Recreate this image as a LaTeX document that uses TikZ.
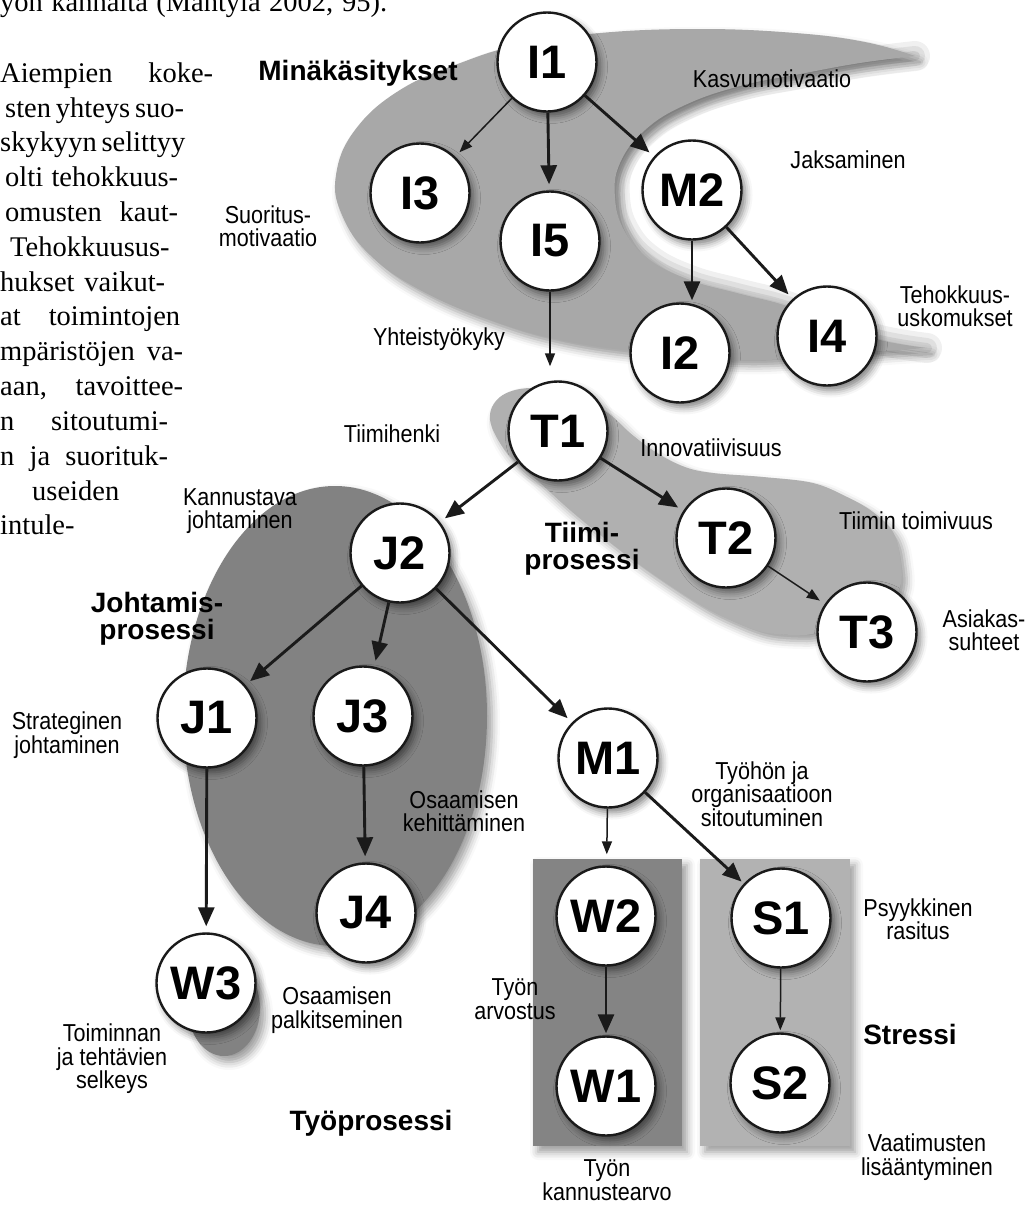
\documentclass[tikz,border=0pt]{standalone}
\usepackage{fontspec}
\setmainfont{Liberation Serif}
\newfontfamily\labfont[FakeStretch=0.88]{Liberation Sans}
\newfontfamily\hdfont{Liberation Sans}
\usetikzlibrary{arrows.meta,shadows.blur}
\definecolor{blobI}{HTML}{A8A8A8}
\definecolor{blobT}{HTML}{B0B0B0}
\definecolor{blobJ}{HTML}{828282}
\definecolor{rectW}{HTML}{848484}
\definecolor{rectS}{HTML}{B2B2B2}
\definecolor{ink}{HTML}{1A1A1A}
\tikzset{
  nd/.style={circle,draw=ink,line width=2.4pt,fill=white,minimum size=99pt,inner sep=0pt,
    font=\hdfont\bfseries\fontsize{47}{47}\selectfont,
    blur shadow={shadow xshift=4pt,shadow yshift=-5pt,shadow blur radius=7pt,shadow opacity=50}},
  lab/.style={font=\labfont\fontsize{24.5}{23.5}\selectfont,align=center,inner sep=0pt},
  hd/.style={font=\hdfont\bfseries\fontsize{28}{27}\selectfont,align=center,inner sep=0pt},
  body/.style={font=\fontsize{28.5}{34}\selectfont,inner sep=0pt,anchor=base west},
  arrA/.style={draw=ink,line width=2.9pt,-{Triangle[length=19pt,width=16pt]},shorten >=6pt},
  arrB/.style={draw=ink,line width=1.5pt,-{Triangle[length=13pt,width=10pt]},shorten >=6pt},
  blobshadow/.style={blur shadow={shadow xshift=5pt,shadow yshift=-6pt,shadow blur radius=8pt,shadow opacity=40}},
  halo/.style={draw=black,line cap=round},
}
\begin{document}
\begin{tikzpicture}[x=1pt,y=-1pt]
\useasboundingbox (0,0) rectangle (1028,1205);

% ---- body text of the page (cut off at the left) ----
\node[body] (b0) at (0,11) {\makebox[387pt][s]{yön kannalta (Mäntylä 2002, 95).}};
\node[body] (b1) at (0,82) {\makebox[213pt][s]{Aiempien koke-}};
\node[body] (b2) at (5,117) {\makebox[178pt][s]{sten yhteys suo-}};
\node[body] (b3) at (0,151) {\makebox[183pt][s]{skykyyn selittyy}};
\node[body] (b4) at (5,186) {\makebox[173pt][s]{olti tehokkuus-}};
\node[body] (b5) at (5,221) {\makebox[173pt][s]{omusten kaut-}};
\node[body] (b6) at (10,256) {Tehokkuusus-};
\node[body] (b7) at (0,291) {\makebox[165pt][s]{hukset vaikut-}};
\node[body] (b8) at (0,325) {\makebox[180pt][s]{at toimintojen}};
\node[body] (b9) at (0,360) {\makebox[183pt][s]{mpäristöjen va-}};
\node[body] (b10) at (0,395) {\makebox[183pt][s]{aan, tavoittee-}};
\node[body] (b11) at (0,430) {\makebox[168pt][s]{n sitoutumi-}};
\node[body] (b12) at (0,465) {\makebox[168pt][s]{n ja suorituk-}};
\node[body] (b13) at (32,500) {useiden};
\node[body] (b14) at (0,534) {intule-};

% ---- grouping shapes ----
% soft halo inside the concave side of the crescent
\foreach \w/\o in {30/0.06,20/0.07,10/0.08}{
  \draw[halo,opacity=\o,line width=\w pt] plot[smooth,tension=0.7] coordinates {(927,348) (880,340) (830,324) (787,306) (737,293) (690,280) (650,260) (625,232) (615,198) (620,163) (645,130) (685,105) (740,86) (800,74) (860,63) (915,56)};
}
\fill[blobI,blobshadow]
  plot[smooth,tension=0.7] coordinates {(915,56) (865,42) (795,33) (700,29) (600,33) (520,45) (463,62) (400,90) (355,130) (336,175) (342,215) (370,255) (420,290) (490,320) (560,340) (640,352) (730,360) (800,358) (870,352) (927,348)}
  -- plot[smooth,tension=0.7] coordinates {(927,348) (880,340) (830,324) (787,306) (737,293) (690,280) (650,260) (625,232) (615,198) (620,163) (645,130) (685,105) (740,86) (800,74) (860,63) (915,56)} -- cycle;
\fill[blobT,blobshadow] plot[smooth cycle,tension=0.6] coordinates {(490,420) (500,397) (530,388) (575,395) (608,413) (630,433) (657,453) (685,467) (713,473) (763,477) (813,483) (847,497) (873,512) (893,532) (900,557) (900,587) (880,620) (817,633) (797,635) (763,632) (730,620) (697,603) (647,570) (607,540) (570,510) (537,480) (507,453)};
\fill[blobJ,blobshadow] (335,716) ellipse [x radius=152, y radius=230];
\fill[blobJ,blobshadow] (224,1008) ellipse [x radius=36, y radius=48];
\fill[rectW,blobshadow] (533,859) rectangle (682,1146);
\fill[rectS,blobshadow] (700,859) rectangle (850,1146);

% ---- nodes ----
\node[nd] (I1) at (547,62) {I1};
\node[nd] (I3) at (420,193) {I3};
\node[nd] (I5) at (550,241) {I5};
\node[nd] (M2) at (692,190) {M2};
\node[nd] (I2) at (680,353) {I2};
\node[nd] (I4) at (827,336) {I4};
\node[nd] (T1) at (558,431) {T1};
\node[nd] (T2) at (726,538) {T2};
\node[nd] (T3) at (867,632) {T3};
\node[nd] (J2) at (400,553) {J2};
\node[nd] (J1) at (207,718) {J1};
\node[nd] (J3) at (363,716) {J3};
\node[nd] (J4) at (366,913) {J4};
\node[nd] (W3) at (206,983) {W3};
\node[nd] (M1) at (608,758) {M1};
\node[nd] (W2) at (606,916) {W2};
\node[nd] (W1) at (606,1086) {W1};
\node[nd] (S1) at (781,918) {S1};
\node[nd] (S2) at (780,1083) {S2};

% ---- connectors ----
\draw[arrB] (I1) -- (I3);
\draw[arrA] (I1) -- (I5);
\draw[arrA] (I1) -- (M2);
\draw[arrA,shorten >=2pt] (M2) -- (M2 |- I2.north);
\draw[arrA] (M2) -- (I4);
\draw[arrB,shorten >=14pt] (I5) -- (I5 |- T1.north);
\draw[arrA] (T1) -- (J2);
\draw[arrA] (T1) -- (T2);
\draw[arrB] (T2) -- (T3);
\draw[arrA] (J2) -- (J1);
\draw[arrA] (J2) -- (J3);
\draw[arrA] (J2) -- (M1);
\draw[arrA] (J1) -- (W3);
\draw[arrA] (J3) -- (J4);
\draw[arrB,shorten >=11pt] (M1) -- (W2);
\draw[arrA,shorten >=3pt] (M1) -- (S1);
\draw[arrA,shorten >=2pt] (W2) -- (W1);
\draw[arrB,shorten >=2pt] (S1) -- (S2);

% ---- labels ----
\node[hd,anchor=base] (lMin) at (358,80) {Minäkäsitykset};
\node[lab,anchor=base] (lKas) at (772,87) {Kasvumotivaatio};
\node[lab,anchor=base] (lJak) at (848,168) {Jaksaminen};
\node[lab] (lSuo) at (268,226) {Suoritus-\\motivaatio};
\node[lab,anchor=base] (lYht) at (439,345) {Yhteistyökyky};
\node[lab] (lTeh) at (955,306) {Tehokkuus-\\uskomukset};
\node[lab,anchor=base] (lTii) at (392,442) {Tiimihenki};
\node[lab,anchor=base] (lInn) at (711,456) {Innovatiivisuus};
\node[lab,anchor=base] (lToi) at (916,529) {Tiimin toimivuus};
\node[hd] (lTP) at (582,549) {Tiimi-\\prosessi};
\node[lab] (lAsi) at (984,630) {Asiakas-\\suhteet};
\node[lab] (lKan) at (240,511) {Kannustava\\johtaminen};
\node[hd] (lJP) at (157,619) {Johtamis-\\prosessi};
\node[lab] (lStr) at (67,735) {Strateginen\\johtaminen};
\node[lab] (lOsk) at (464,811) {Osaamisen\\kehittäminen};
\node[lab] (lOsp) at (337,1010) {Osaamisen\\palkitseminen};
\node[lab] (lTom) at (112,1059) {Toiminnan\\ja tehtävien\\selkeys};
\node[hd,anchor=base] (lTyp) at (371,1130) {Työprosessi};
\node[lab] (lSit) at (762,794) {Työhön ja\\organisaatioon\\sitoutuminen};
\node[lab] (lArv) at (515,999) {Työn\\arvostus};
\node[lab] (lPsy) at (918,919) {Psyykkinen\\rasitus};
\node[hd,anchor=base] (lSts) at (910,1044) {Stressi};
\node[lab] (lVaa) at (927,1157) {Vaatimusten\\lisääntyminen};
\node[lab] (lKnt) at (607,1180) {Työn\\kannustearvo};
\end{tikzpicture}
\end{document}
